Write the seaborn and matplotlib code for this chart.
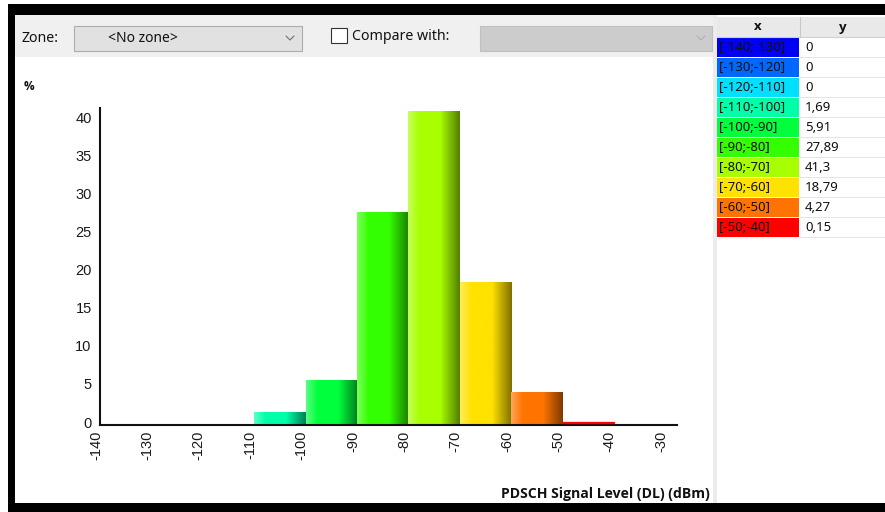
import numpy as np
import pandas as pd
import matplotlib
matplotlib.use("Agg")
import matplotlib.pyplot as plt
from matplotlib.patches import Rectangle
from matplotlib.colors import to_rgb
from matplotlib.transforms import ScaledTranslation
import seaborn as sns

# Histogram of PDSCH signal level (DL), percentage per 10 dBm bin
bin_left = [-140, -130, -120, -110, -100, -90, -80, -70, -60, -50]
bin_labels = ["[-140;-130]", "[-130;-120]", "[-120;-110]", "[-110;-100]",
              "[-100;-90]", "[-90;-80]", "[-80;-70]", "[-70;-60]",
              "[-60;-50]", "[-50;-40]"]
percent = [0, 0, 0, 1.69, 5.91, 27.89, 41.3, 18.79, 4.27, 0.15]
percent_text = ["0", "0", "0", "1,69", "5,91", "27,89", "41,3", "18,79", "4,27", "0,15"]
bin_colors = ["#0000f5", "#0068ff", "#00e0ff", "#00ffa8", "#00ff3c",
              "#34ff00", "#a8ff00", "#ffe200", "#ff7400", "#ff0000"]
x_ticks = list(range(-140, -20, 10))
y_ticks = list(range(0, 45, 5))

W, H = 885, 512
sns.set_theme(style="white")
plt.rcParams["font.family"] = ["Liberation Sans", "DejaVu Sans"]
UI = ["Noto Sans", "DejaVu Sans"]
UIB = ["Open Sans", "DejaVu Sans"]

fig = plt.figure(figsize=(W / 100, H / 100), dpi=100)

# ---- window chrome drawn in pixel coordinates ----
bg = fig.add_axes([0, 0, 1, 1])
bg.set_xlim(0, W)
bg.set_ylim(H, 0)
bg.axis("off")
bg.set_zorder(-1)

def box(x0, y0, x1, y1, fc, ec="none", lw=0):
    bg.add_patch(Rectangle((x0, y0), x1 - x0, y1 - y0, facecolor=fc,
                           edgecolor=ec, linewidth=lw))

box(0, 0, W, H, "white")
box(8, 4, W, 15, "black")            # top frame
box(8, 4, 15, H, "black")            # left frame
box(8, 503, W, H, "black")           # bottom frame
box(15, 15, 713, 57, "#f0f0f0")      # toolbar
box(713, 15, 717, 503, "#ececec")    # splitter

# toolbar widgets
bg.text(21, 38, "Zone:", fontsize=10.2, family=UI, va="center", ha="left", color="#111111")
box(73.5, 25.5, 302, 51, "#e1e1e1", "#adadad", 0.8)
bg.text(143, 38.5, "<No zone>", fontsize=10, family=UI, va="center", ha="center", color="#111111")
bg.plot([286, 290, 294], [36, 40, 36], color="#707070", lw=0.8)
box(331, 27.5, 346.5, 43, "white", "#333333", 0.8)
bg.text(352, 36.5, "Compare with:", fontsize=10.2, family=UI, va="center", ha="left", color="#111111")
box(479.5, 25.5, 712, 51, "#cccccc", "#bfbfbf", 0.8)
bg.plot([697, 701, 705], [36, 40, 36], color="#b0b0b0", lw=0.8)

# value table
box(717, 17, W, 37, "#e9e9e9")
bg.plot([800, 800], [17, 37], color="#c8c8c8", lw=0.8)
bg.plot([717, W], [37, 37], color="#d0d0d0", lw=0.8)
bg.text(758, 27, "x", fontsize=9.5, family=UIB, weight="bold", ha="center", va="center", color="#111111")
bg.text(843, 27, "y", fontsize=9.5, family=UIB, weight="bold", ha="center", va="center", color="#111111")
for i, (lab, val, col) in enumerate(zip(bin_labels, percent_text, bin_colors)):
    y0 = 37 + 20 * i
    box(717, y0 + 1, 799, y0 + 19.5, col)
    bg.plot([800, W], [y0 + 20, y0 + 20], color="#e4e4e4", lw=0.7)
    bg.text(719, y0 + 10.5, lab, fontsize=9.5, family=UI, ha="left", va="center",
            color="#101010")
    bg.text(805, y0 + 10.5, val, fontsize=9.5, family=UI, ha="left", va="center",
            color="#101010")

bg.text(24, 86, "%", fontsize=8.5, family=UIB, weight="bold", ha="left", va="center", color="#111111")
bg.text(710, 494, "PDSCH Signal Level (DL) (dBm)", fontsize=10.1, family=UIB,
        weight="bold", ha="right", va="center", color="#111111")

# ---- histogram ----
x0p, x1p, y0p, y1p = 100, 677, 425, 108
ax = fig.add_axes([x0p / W, (H - y0p) / H, (x1p - x0p) / W, (y0p - y1p) / H])
ax.patch.set_alpha(0)

df = pd.DataFrame({"center": np.array(bin_left) + 5, "pct": percent})
edges = bin_left + [bin_left[-1] + 10]
sns.histplot(data=df, x="center", weights="pct", bins=edges, ax=ax,
             linewidth=0, alpha=1, color="#cccccc")

XMAX, YMAX = -27.7, 41.7
px_per_unit = (y0p - y1p) / YMAX

def bar_gradient(color, n=64):
    base = np.array(to_rgb(color))
    light = base + (1 - base) * 0.35
    dark = base * 0.5
    t = np.linspace(0, 1, n)
    out = np.empty((n, 3))
    for k, tt in enumerate(t):
        if tt < 0.22:
            f = tt / 0.22
            out[k] = light * (1 - f) + base * f
        elif tt < 0.62:
            out[k] = base
        else:
            f = (tt - 0.62) / 0.38
            out[k] = base * (1 - f) + dark * f
    return out[np.newaxis, :, :]

for patch, col in zip(ax.patches, bin_colors):
    h = patch.get_height()
    if h <= 0:
        patch.set_visible(False)
        continue
    patch.set_facecolor(col)
    patch.set_zorder(2)
    if h * px_per_unit < 3:
        # a sliver this thin is lifted clear of the axis line and outlined
        patch.set_zorder(4)
        patch.set_y(1.6 / px_per_unit)
        patch.set_edgecolor(col)
        patch.set_linewidth(0.9)
        continue
    xl, w = patch.get_x(), patch.get_width()
    ax.imshow(bar_gradient(col), extent=[xl, xl + w, 0, h], aspect="auto",
              interpolation="bilinear", zorder=2.5)

ax.set_xlim(-140, XMAX)
ax.set_ylim(0, YMAX)
ax.set_xticks(x_ticks)
ax.set_yticks(y_ticks)
ax.set_xticklabels([str(v) for v in x_ticks], rotation=90, va="top", ha="center")
ax.set_xlabel("")
ax.set_ylabel("")
for side in ("top", "right"):
    ax.spines[side].set_visible(False)
for side in ("left", "bottom"):
    ax.spines[side].set_color("#111111")
    ax.spines[side].set_linewidth(1.5)
    ax.spines[side].set_zorder(3)
ax.tick_params(axis="both", direction="inout", length=6, width=1.4, color="#111111",
               labelsize=10.5, labelcolor="#1a1a1a", pad=1)
ax.tick_params(axis="y", pad=3)
ax.grid(False)

# nudge tick labels the way the original chart control places them
shift_x = ScaledTranslation(-4 / 100, 0, fig.dpi_scale_trans)
shift_y = ScaledTranslation(0, 3 / 100, fig.dpi_scale_trans)
for lbl in ax.get_xticklabels():
    lbl.set_transform(lbl.get_transform() + shift_x)
for lbl in ax.get_yticklabels():
    lbl.set_transform(lbl.get_transform() + shift_y)

fig.savefig("out.png", dpi=100)
